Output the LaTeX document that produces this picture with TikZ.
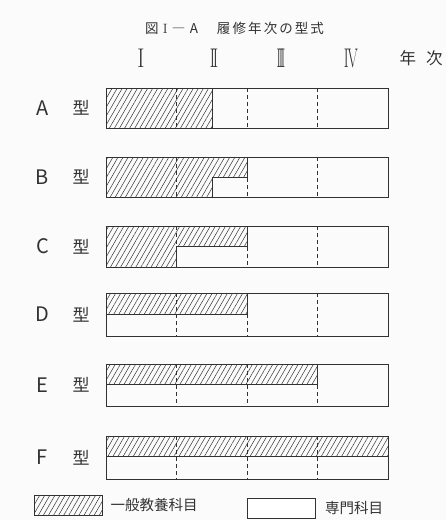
\documentclass[tikz,border=0pt]{standalone}
\usepackage{fontspec}
\newfontfamily\cjk{Noto Sans CJK JP}
\usepackage{graphicx}
\usepackage{xcolor}
\definecolor{ink}{RGB}{50,50,50}
\definecolor{paper}{RGB}{251,251,251}
\usetikzlibrary{patterns.meta,positioning}

\begin{document}
\begin{tikzpicture}[x=1pt,y=-1pt,color=ink]
  \tikzstyle{bar}=[draw=ink,line width=0.9pt]
  \tikzstyle{gen}=[pattern={Lines[angle=60,distance=4.4pt,line width=0.5pt]},pattern color=ink]
  \tikzstyle{yrline}=[draw=ink,line width=0.7pt,dash pattern=on 4pt off 3pt]
  \tikzstyle{typ}=[inner sep=0pt,font=\cjk\fontsize{20}{20}\selectfont]
  \tikzstyle{kata}=[inner sep=0pt,font=\cjk\fontsize{17}{17}\selectfont]
  \tikzstyle{year}=[inner sep=0pt,font=\fontsize{27}{27}\selectfont]
  \tikzstyle{legbox}=[draw=ink,line width=0.9pt,minimum width=68pt,minimum height=20pt,inner sep=0pt]
  \tikzstyle{legtext}=[inner sep=0pt,font=\cjk\fontsize{14.5}{15}\selectfont]
  \fill[paper] (0,0) rectangle (446,520);
  \node[inner sep=0pt,font=\cjk\fontsize{13.5}{14}\selectfont] (title) at (234.5,28)
    {\makebox[53pt][s]{図\hfill{\rmfamily I}\hfill―\hfill A}\hspace{19pt}\makebox[107pt][s]{履\hfill 修\hfill 年\hfill 次\hfill の\hfill 型\hfill 式}};
  \node[year] (yr1) at (141,58) {\scalebox{0.8}[1]{I}};
  \node[year] (yr2) at (214,58) {\scalebox{0.6}[1]{I\kern-4pt I}};
  \node[year] (yr3) at (281,58) {\scalebox{0.5}[1]{I\kern-4.5pt I\kern-4.5pt I}};
  \node[year] (yr4) at (351,58) {\scalebox{0.55}[1]{I\kern-2pt V}};
  \node[inner sep=0pt,font=\cjk\fontsize{16.5}{17}\selectfont] (nenji) at (421,58) {\makebox[43pt][s]{年\hfill 次}};
  \foreach \n/\c in {A/108,B/177,C/246.5,D/314.5,E/385,F/457.5} {
    \node[typ] (typ\n) at (42.5,\c) {\n};
    \node[kata] (kata\n) at (81,\c) {型};
  }
  \fill[gen] (106,88) rectangle (212,128);
  \fill[gen] (106,157) -- (247,157) -- (247,177) -- (212,177) -- (212,197) -- (106,197) -- cycle;
  \fill[gen] (106,226) -- (247,226) -- (247,246.5) -- (176.5,246.5) -- (176.5,267) -- (106,267) -- cycle;
  \fill[gen] (106,293) rectangle (247,314);
  \fill[gen] (106,364) rectangle (317.5,384);
  \fill[gen] (106,436) rectangle (388,456);
  \foreach \t/\b in {88/128,157/197,226/267,293/336,364/406,436/479} {
    \foreach \x in {176.5,247,317.5}
      \draw[yrline] (\x,\t) -- (\x,\b);
    \draw[bar] (106,\t) rectangle (388,\b);
  }
  \draw[bar] (212,88) -- (212,128);
  \draw[bar] (247,157) -- (247,177) -- (212,177) -- (212,197);
  \draw[bar] (247,226) -- (247,246.5) -- (176.5,246.5) -- (176.5,267);
  \draw[bar] (106,314) -- (247,314) -- (247,293);
  \draw[bar] (106,384) -- (317.5,384) -- (317.5,364);
  \draw[bar] (106,456) -- (388,456);
  \node[legbox,gen] (legGen) at (68,505) {};
  \node[legtext,right=8pt of legGen] (legGenText) {一般教養科目};
  \node[legbox,fill=white] (legSen) at (281.5,508) {};
  \node[legtext,right=9pt of legSen] (legSenText) {専門科目};
\end{tikzpicture}
\end{document}
